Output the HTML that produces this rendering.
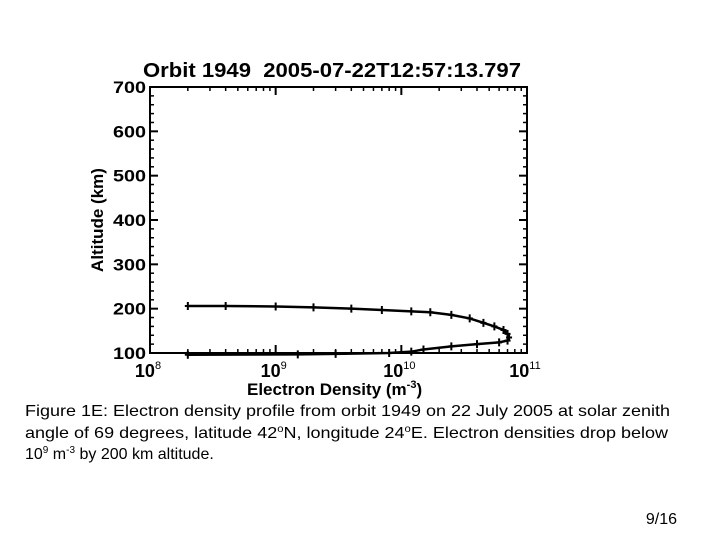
<!DOCTYPE html>
<html><head><meta charset="utf-8"><style>
html,body{margin:0;padding:0;background:#fff;}
svg{display:block;font-family:"Liberation Sans",Arial,sans-serif;}
</style></head><body>
<svg id="chart" width="720" height="540" viewBox="0 0 720 540">
<text x="143" y="77" font-size="20" font-weight="bold" textLength="378" lengthAdjust="spacingAndGlyphs" style="white-space:pre">Orbit 1949  2005-07-22T12:57:13.797</text>
<g id="axes"></g>
<g id="series"></g>
<text transform="translate(103,220) rotate(-90)" text-anchor="middle" font-size="17" font-weight="bold">Altitude (km)</text>
<text x="247" y="395" font-size="17" font-weight="bold">Electron Density (m<tspan dy="-7" font-size="11">-3</tspan><tspan dy="7">)</tspan></text>
<g font-size="16">
<text x="25" y="416" textLength="645" lengthAdjust="spacingAndGlyphs">Figure 1E: Electron density profile from orbit 1949 on 22 July 2005 at solar zenith</text>
<text x="25" y="438" textLength="643" lengthAdjust="spacingAndGlyphs">angle of 69 degrees, latitude 42<tspan font-size="10" dy="-6">o</tspan><tspan dy="6">N, longitude 24</tspan><tspan font-size="10" dy="-6">o</tspan><tspan dy="6">E. Electron densities drop below</tspan></text>
<text x="25" y="459">10<tspan font-size="10" dy="-6">9</tspan><tspan dy="6"> m</tspan><tspan font-size="10" dy="-6">-3</tspan><tspan dy="6"> by 200 km altitude.</tspan></text>
</g>
<text x="677" y="524" font-size="16" text-anchor="end">9/16</text>
</svg>
<script>
const yTicks=[100,200,300,400,500,600,700];
const xDecades=[8,9,10,11];
const densities=[2e8,4e8,1e9,2e9,4e9,7e9,1.2e10,1.7e10,2.5e10,3.5e10,4.5e10,5.5e10,6.5e10,7e10,7.2e10,7e10,6e10,4e10,2.5e10,1.5e10,1.2e10,8e9,3e9,1.5e9,2e8];
const altitudes=[206,206,205,203,200,197,194,192,186,178,168,160,152,143,135,128,124,120,115,108,103,100,98,97,96];
const NS="http://www.w3.org/2000/svg";
const L=150,R=527,T=87,B=353;
function xs(v){return L+(Math.log10(v)-8)/3*(R-L);}
function ys(a){return B-(a-100)/600*(B-T);}
function mk(tag,at,parent){const e=document.createElementNS(NS,tag);for(const k in at)e.setAttribute(k,at[k]);parent.appendChild(e);return e;}
const ax=document.getElementById('axes');
const fr=mk('rect',{x:L,y:T,width:R-L,height:B-T,fill:'none',stroke:'#000','stroke-width':2},ax);


yTicks.forEach(t=>{const y=ys(t);
 mk('line',{x1:L,x2:L+8,y1:y,y2:y,stroke:'#000','stroke-width':2},ax);
 mk('line',{x1:R,x2:R-8,y1:y,y2:y,stroke:'#000','stroke-width':2},ax);
 const tx=mk('text',{x:L-4,y:y+6,'text-anchor':'end','font-size':17,'font-weight':'bold',textLength:33,lengthAdjust:'spacingAndGlyphs'},ax);tx.textContent=t;
 
 
 if(t<700)for(let k=1;k<5;k++){const yy=ys(t+k*20);
  mk('line',{x1:L,x2:L+4,y1:yy,y2:yy,stroke:'#000','stroke-width':1.5},ax);
  mk('line',{x1:R,x2:R-4,y1:yy,y2:yy,stroke:'#000','stroke-width':1.5},ax);}
});
xDecades.forEach(d=>{const x=xs(Math.pow(10,d));
 mk('line',{x1:x,x2:x,y1:B,y2:B-8,stroke:'#000','stroke-width':2},ax);
 mk('line',{x1:x,x2:x,y1:T,y2:T+8,stroke:'#000','stroke-width':2},ax);
 const tx=mk('text',{x:x-2,y:377,'text-anchor':'middle','font-size':18,'font-weight':'bold'},ax);
 
 
 tx.textContent='10';const sp=mk('tspan',{dy:-8,'font-size':11,'font-weight':'normal'},tx);sp.textContent=d;
 if(d<11)for(let k=2;k<10;k++){const xx=xs(k*Math.pow(10,d));
  mk('line',{x1:xx,x2:xx,y1:B,y2:B-4,stroke:'#000','stroke-width':1.5},ax);
  mk('line',{x1:xx,x2:xx,y1:T,y2:T+4,stroke:'#000','stroke-width':1.5},ax);}
});
const sg=document.getElementById('series');
const pts=densities.map((d,i)=>xs(d)+','+ys(altitudes[i])).join(' ');
const pl=mk('polyline',{points:pts,fill:'none',stroke:'#000','stroke-width':2.5},sg);


densities.forEach((d,i)=>{const x=xs(d),y=ys(altitudes[i]);
 const m=mk('path',{d:`M${x-3},${y}h6M${x},${y-4}v8`,stroke:'#000','stroke-width':2},sg);
 
 
});
</script>
</body></html>
